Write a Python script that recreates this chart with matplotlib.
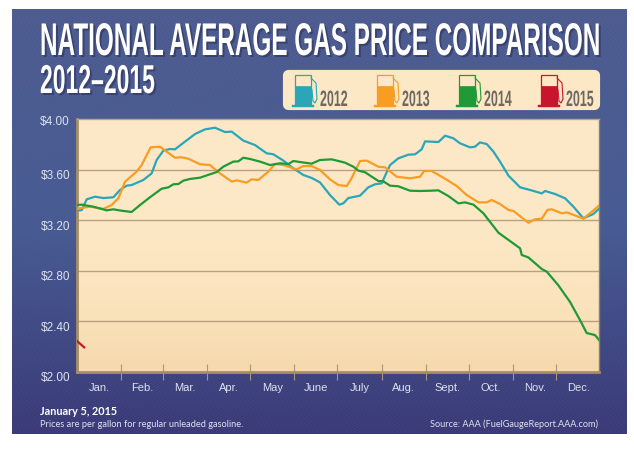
import numpy as np
import matplotlib
matplotlib.use("Agg")
from matplotlib import pyplot as plt
from matplotlib.colors import to_rgb
from matplotlib.patches import FancyBboxPatch, Rectangle
from matplotlib.patheffects import AbstractPathEffect
from matplotlib.transforms import Affine2D, ScaledTranslation

# donnees (jour de l'annee, prix en dollars)
days_2012 = [0, 3.3, 6.8, 12.6, 18.4, 25.4, 30.1, 34.7, 38.2, 46.4, 52.2, 55.7, 60.4, 65, 68.5, 75.5, 82.5, 89.5, 96.5,
             103.5, 108.2, 116.3, 124.5, 132.6, 137.3, 144.3, 151.3, 158.3, 164.1, 169.9, 176.9, 183.4, 186.2, 189.7,
             197.9, 203.7, 208.4, 213, 218.9, 224.7, 231.7, 236.4, 241, 243.4, 252.7, 257.4, 263.2, 267.8, 274.8,
             278.3, 281.8, 286.5, 291.2, 295.8, 301.7, 309.8, 316.8, 325, 327.3, 334.3, 341.3, 347.1, 354.1, 361.1, 365]
price_2012 = [3.275, 3.28, 3.365, 3.386, 3.375, 3.381, 3.439, 3.473, 3.478, 3.518, 3.57, 3.676, 3.75, 3.763, 3.76, 3.821,
              3.881, 3.918, 3.931, 3.897, 3.9, 3.829, 3.794, 3.729, 3.721, 3.671, 3.61, 3.557, 3.534, 3.499, 3.399, 3.323,
              3.333, 3.375, 3.394, 3.46, 3.484, 3.491, 3.636, 3.689, 3.718, 3.721, 3.76, 3.823, 3.818, 3.868, 3.847,
              3.808, 3.776, 3.781, 3.815, 3.802, 3.742, 3.663, 3.552, 3.46, 3.439, 3.412, 3.431, 3.407, 3.373, 3.307,
              3.215, 3.249, 3.291]

days_2013 = [0, 9.1, 18.4, 24.2, 28.9, 33.6, 41.7, 45.2, 51.5, 58, 68.5, 73.2, 77.9, 86, 93, 100, 108.2, 111.7, 118.6,
             122.1, 126.8, 133.8, 138.5, 144.3, 153.6, 158.3, 164.1, 169.9, 176.9, 182.7, 188.6, 192, 197.9, 202.6,
             210.7, 215.4, 223.5, 232.9, 239.9, 242.7, 248, 256.2, 265.5, 272.5, 280.7, 286.5, 290, 295.8, 301.7,
             305.2, 315.6, 320.3, 325, 328.9, 332, 339, 342.5, 354.1, 360, 365]
price_2013 = [3.291, 3.307, 3.289, 3.32, 3.373, 3.505, 3.584, 3.636, 3.776, 3.781, 3.694, 3.697, 3.686, 3.642, 3.636,
              3.57, 3.505, 3.515, 3.497, 3.523, 3.518, 3.584, 3.644, 3.636, 3.602, 3.628, 3.628, 3.597, 3.523, 3.478,
              3.47, 3.531, 3.668, 3.671, 3.623, 3.618, 3.544, 3.531, 3.544, 3.589, 3.589, 3.536, 3.47, 3.399, 3.341,
              3.341, 3.36, 3.328, 3.281, 3.273, 3.18, 3.207, 3.212, 3.281, 3.286, 3.254, 3.262, 3.212, 3.267, 3.315]

days_2014 = [0, 3.3, 11.4, 20.7, 25.4, 31.2, 38.2, 44.1, 51, 59.2, 63.9, 67.4, 70.9, 74.4, 79, 86, 97.7, 102.3, 109.3,
             112.8, 116.3, 121, 128, 135, 142, 147.8, 151.3, 155.9, 164.1, 169.9, 178.1, 187.4, 193.2, 196.7, 201.4,
             210.7, 214.2, 218.9, 224.7, 232.9, 239.9, 246.8, 252.7, 259.7, 266.7, 271.3, 277.2, 284.2, 294.7, 309.8,
             311, 315.6, 325, 328.5, 336.4, 344.8, 351.7, 356.4, 362.2, 365]
price_2014 = [3.32, 3.323, 3.307, 3.278, 3.286, 3.275, 3.265, 3.32, 3.381, 3.449, 3.46, 3.484, 3.486, 3.513, 3.526, 3.536,
              3.581, 3.623, 3.663, 3.665, 3.694, 3.684, 3.663, 3.636, 3.65, 3.644, 3.668, 3.66, 3.647, 3.676, 3.681,
              3.655, 3.623, 3.592, 3.579, 3.51, 3.507, 3.473, 3.468, 3.433, 3.431, 3.433, 3.436, 3.391, 3.333, 3.341,
              3.323, 3.254, 3.101, 2.978, 2.925, 2.906, 2.814, 2.793, 2.688, 2.553, 2.411, 2.308, 2.292, 2.253]

days_2015 = [0, 5]
price_2015 = [2.245, 2.195]

years = ["2012", "2013", "2014", "2015"]
colors = ["#2ba6b8", "#f89c24", "#1f9a36", "#c9142d"]
months = ["Jan.", "Feb.", "Mar.", "Apr.", "May", "June", "July", "Aug.", "Sept.", "Oct.", "Nov.", "Dec."]
month_len = [31, 29, 31, 30, 31, 30, 31, 31, 30, 31, 30, 31]
price_ticks = [2.0, 2.4, 2.8, 3.2, 3.6, 4.0]


# etire le texte (pas de police ultra condensee installee)
class Stretch(AbstractPathEffect):
    def __init__(self, sx, sy=1, dx=0, dy=0, color=None):
        self.sx, self.sy, self.dx, self.dy, self.color = sx, sy, dx, dy, color

    def draw_path(self, renderer, gc, tpath, affine, rgbFace=None):
        m = affine.get_matrix().copy()
        m[0, 0] *= self.sx
        m[1, 1] *= self.sy
        tr = Affine2D(m).translate(self.dx, self.dy)
        renderer.draw_path(gc, tpath, tr, to_rgb(self.color) if self.color else rgbFace)


fig = plt.figure(figsize=(6.34, 4.49), dpi=100, facecolor="white")

# fond en pixels
bg = fig.add_axes([0, 0, 1, 1])
bg.axis("off")

H, W = 426, 615
yy, xx = np.mgrid[0:H, 0:W]
t = (yy / H)[..., None]
top = np.array([0x4e, 0x5c, 0x90]) / 255
mid = np.array([0x48, 0x5c, 0x93]) / 255
bot = np.array([0x3b, 0x3b, 0x78]) / 255
img = np.where(t < 0.5, top + (mid - top) * t * 2, mid + (bot - mid) * (t - 0.5) * 2)
img = img + (0.018 * np.sin((xx + yy * 1.6) * 1.5))[..., None]
bg.imshow(np.clip(img, 0, 1), extent=(12, 627, 434, 9), aspect="auto", zorder=0)
bg.set_xlim(0, 634)
bg.set_ylim(449, 0)

narrow = ["Liberation Sans Narrow", "Liberation Sans"]

bg.text(40, 55, "NATIONAL AVERAGE GAS PRICE COMPARISON", color="white", fontsize=18, family=narrow, weight="bold",
        ha="left", va="baseline",
        path_effects=[Stretch(0.972, 1.833, 2, -2, "#39426f"), Stretch(0.972, 1.833)])
bg.text(40, 93, "2012\u20132015", color="white", fontsize=29, family=narrow, weight="bold",
        ha="left", va="baseline",
        path_effects=[Stretch(0.57, 1, 2, -2, "#39426f"), Stretch(0.57)])

# legende avec les pompes
bg.add_patch(FancyBboxPatch((285, 72), 313, 36, boxstyle="round,pad=0,rounding_size=4",
                            fc="#fde8c6", ec="#fde8c6", lw=3, zorder=2))
for i, year in enumerate(years):
    x0 = 295 + 82 * i
    c = colors[i]
    bg.add_patch(Rectangle((x0, 75), 16, 30, fc="none", ec=c, lw=0.9, zorder=3))
    bg.add_patch(Rectangle((x0, 86), 16, 19, fc=c, ec=c, lw=0.5, zorder=3))
    bg.add_patch(Rectangle((x0 - 3, 104.5), 22, 2, fc=c, ec=c, lw=0.3, zorder=3))
    hose_x = [x0 + 16, x0 + 21, x0 + 22, x0 + 20, x0 + 18, x0 + 17, x0 + 16]
    hose_y = [78, 83, 99, 103, 101, 90, 87]
    bg.plot(hose_x, hose_y, color=c, lw=0.8, zorder=3)
    bg.text(x0 + 25, 106, year, color="#6d6862", fontsize=16, family=narrow, weight="bold", ha="left", va="baseline",
            zorder=3, path_effects=[Stretch(0.56)])

# textes du bas
bg.text(40, 415, "January 5, 2015", color="white", fontsize=7.8, family="Lato", weight="bold", ha="left", va="baseline")
bg.text(40, 427, "Prices are per gallon for regular unleaded gasoline.", color="#dfe2ee", fontsize=6.7, family="Lato",
        ha="left", va="baseline")
bg.text(598, 427, "Source: AAA (FuelGaugeReport.AAA.com)", color="#dfe2ee", fontsize=6.6, family="Lato",
        ha="right", va="baseline")

# graphique
ax = fig.add_axes([77 / 634, 1 - 372 / 449, 522 / 634, 253 / 449], zorder=2)
grad = np.linspace(0, 1, 100)[:, None] ** 3
cream = np.array([0xfd, 0xe9, 0xc7]) / 255
sand = np.array([0xf6, 0xd9, 0xac]) / 255
ax.imshow(cream + (sand - cream) * grad[..., None], extent=(0, 365, 2, 4), aspect="auto", origin="upper", zorder=0)

for p in [2.4, 2.8, 3.2, 3.6]:
    ax.axhline(p, color="#b9a27f", lw=1, zorder=1)

ax.plot(days_2012, price_2012, color=colors[0], lw=1.6, zorder=3)
ax.plot(days_2013, price_2013, color=colors[1], lw=1.6, zorder=3)
ax.plot(days_2014, price_2014, color=colors[2], lw=1.6, zorder=4)
ax.plot(days_2015, price_2015, color=colors[3], lw=1.6, zorder=4)

ax.set_xlim(0, 365)
ax.set_ylim(2, 4)

edges = np.cumsum(month_len)
centers = edges - np.array(month_len) / 2
ax.set_xticks(edges[:-1])
ax.set_xticklabels([])
ax.set_xticks(centers, minor=True)
ax.set_xticklabels(months, minor=True, color="#dde1ef", fontsize=8, family="Liberation Sans")
ax.tick_params(axis="x", which="major", direction="inout", length=12, width=0.8, color="#a9977e")
ax.tick_params(axis="x", which="minor", length=0, pad=8)

ax.set_yticks(price_ticks)
ax.set_yticklabels(["$%.2f" % p for p in price_ticks], color="#dde1ef", fontsize=8.5, family="Liberation Sans")
ax.tick_params(axis="y", length=0, pad=5)
for lab, p in zip(ax.get_yticklabels(), price_ticks):
    dy = 1.5 if p == 4.0 else 5
    lab.set_transform(lab.get_transform() + ScaledTranslation(0, -dy / 100, fig.dpi_scale_trans))

ax.spines["left"].set(color="#a88e66", lw=2)
ax.spines["bottom"].set(color="#a88e66", lw=2)
ax.spines["top"].set(color="#b7a688", lw=1)
ax.spines["right"].set(color="#85806f", lw=1)

fig.savefig("out.png", dpi=100)
